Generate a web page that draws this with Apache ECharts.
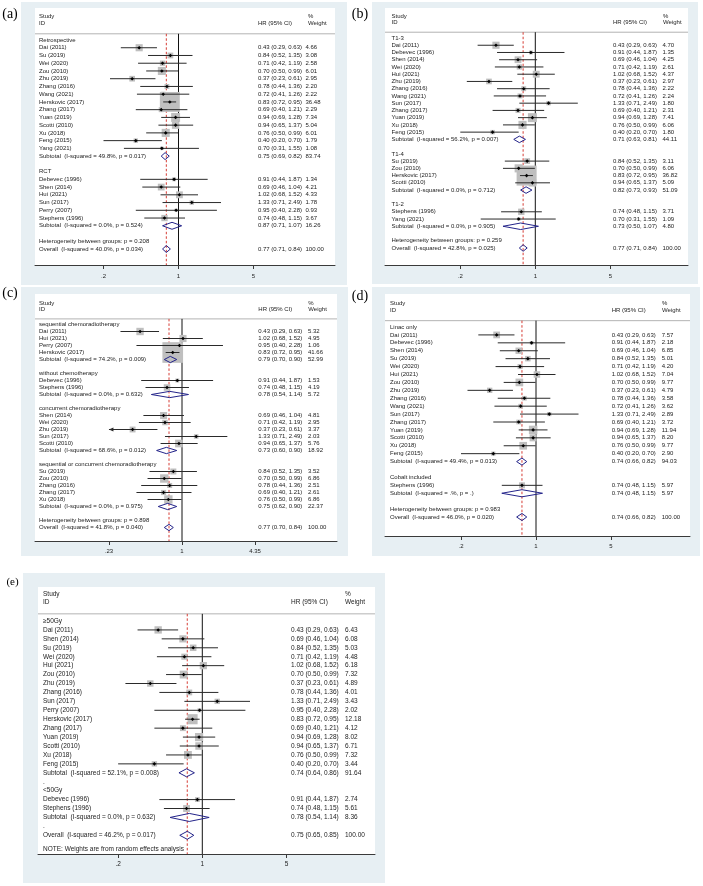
<!DOCTYPE html>
<html>
<head>
<meta charset="utf-8">
<title>Forest plots</title>
<script src="https://cdn.jsdelivr.net/npm/echarts@6/dist/echarts.min.js"></script>
<style>
html,body{margin:0;padding:0;background:#ffffff;}
#chart{width:703px;height:886px;}
</style>
</head>
<body>
<div id="chart"></div>
<script>
// ================= DATA =================
// kinds: g = group heading, s = study, d = pooled (diamond), b = blank, t = text only, n = note
const tickA = [0.2, 1, 5];
const tickTextA = [".2", "1", "5"];
const tickC = [0.23, 1, 4.35];
const tickTextC = [".23", "1", "4.35"];

// (a) study design
const aLabels = ["Retrospective","Dai (2011)","Su (2019)","Wei (2020)","Zou (2010)","Zhu (2019)","Zhang (2016)","Wang (2021)","Herskovic (2017)","Zhang (2017)","Yuan (2019)","Scotti (2010)","Xu (2018)","Feng (2015)","Yang (2021)","Subtotal  (I-squared = 49.8%, p = 0.017)","","RCT","Debevec (1996)","Shen (2014)","Hui (2021)","Sun (2017)","Perry (2007)","Stephens (1996)","Subtotal  (I-squared = 0.0%, p = 0.524)","","Heterogeneity between groups: p = 0.208","Overall  (I-squared = 40.0%, p = 0.034)"];
const aKind = "gssssssssssssssdbgssssssdbtd".split("");
const aHR = [null,0.43,0.84,0.71,0.70,0.37,0.78,0.72,0.83,0.69,0.94,0.94,0.76,0.40,0.70,0.75,null,null,0.91,0.69,1.02,1.33,0.95,0.74,0.87,null,null,0.77];
const aLo = [null,0.29,0.52,0.42,0.50,0.23,0.44,0.41,0.72,0.40,0.69,0.65,0.50,0.20,0.31,0.69,null,null,0.44,0.46,0.68,0.71,0.40,0.48,0.71,null,null,0.71];
const aHi = [null,0.63,1.35,1.19,0.99,0.61,1.36,1.26,0.95,1.21,1.28,1.37,0.99,0.70,1.55,0.82,null,null,1.87,1.04,1.52,2.49,2.28,1.15,1.07,null,null,0.84];
const aWt = [null,4.66,3.08,2.58,6.01,2.95,2.20,2.22,36.48,2.29,7.34,5.04,6.01,1.79,1.08,83.74,null,null,1.34,4.21,4.33,1.78,0.93,3.67,16.26,null,null,100.00];

// (b) T stage
const bLabels = ["T1-3","Dai (2011)","Debevec (1996)","Shen (2014)","Wei (2020)","Hui (2021)","Zhu (2019)","Zhang (2016)","Wang (2021)","Sun (2017)","Zhang (2017)","Yuan (2019)","Xu (2018)","Feng (2015)","Subtotal  (I-squared = 56.2%, p = 0.007)","","T1-4","Su (2019)","Zou (2010)","Herskovic (2017)","Scotti (2010)","Subtotal  (I-squared = 0.0%, p = 0.712)","","T1-2","Stephens (1996)","Yang (2021)","Subtotal  (I-squared = 0.0%, p = 0.905)","","Heterogeneity between groups: p = 0.259","Overall  (I-squared = 42.8%, p = 0.025)"];
const bKind = "gsssssssssssssdbgssssdbgssdbtd".split("");
const bHR = [null,0.43,0.91,0.69,0.71,1.02,0.37,0.78,0.72,1.33,0.69,0.94,0.76,0.40,0.71,null,null,0.84,0.70,0.83,0.94,0.82,null,null,0.74,0.70,0.73,null,null,0.77];
const bLo = [null,0.29,0.44,0.46,0.42,0.68,0.23,0.44,0.41,0.71,0.40,0.69,0.50,0.20,0.63,null,null,0.52,0.50,0.72,0.65,0.73,null,null,0.48,0.31,0.50,null,null,0.71];
const bHi = [null,0.63,1.87,1.04,1.19,1.52,0.61,1.36,1.26,2.49,1.21,1.28,0.99,0.70,0.81,null,null,1.35,0.99,0.95,1.37,0.93,null,null,1.15,1.55,1.07,null,null,0.84];
const bWt = [null,4.70,1.35,4.25,2.61,4.37,2.97,2.22,2.24,1.80,2.31,7.41,6.06,1.80,44.11,null,null,3.11,6.06,36.82,5.09,51.09,null,null,3.71,1.09,4.80,null,null,100.00];

// (c) chemotherapy
const cLabels = ["sequential chemoradiotherapy","Dai (2011)","Hui (2021)","Perry (2007)","Herskovic (2017)","Subtotal  (I-squared = 74.2%, p = 0.009)","","without chemotherapy","Debevec (1996)","Stephens (1996)","Subtotal  (I-squared = 0.0%, p = 0.632)","","concurrent chemoradiotherapy","Shen (2014)","Wei (2020)","Zhu (2019)","Sun (2017)","Scotti (2010)","Subtotal  (I-squared = 68.6%, p = 0.012)","","sequential or concurrent chemoradiotherapy","Su (2019)","Zou (2010)","Zhang (2016)","Zhang (2017)","Xu (2018)","Subtotal  (I-squared = 0.0%, p = 0.975)","","Heterogeneity between groups: p = 0.898","Overall  (I-squared = 41.8%, p = 0.040)"];
const cKind = "gssssdbgssdbgsssssdbgsssssdbtd".split("");
const cHR = [null,0.43,1.02,0.95,0.83,0.79,null,null,0.91,0.74,0.78,null,null,0.69,0.71,0.37,1.33,0.94,0.73,null,null,0.84,0.70,0.78,0.69,0.76,0.75,null,null,0.77];
const cLo = [null,0.29,0.68,0.40,0.72,0.70,null,null,0.44,0.48,0.54,null,null,0.46,0.42,0.23,0.71,0.65,0.60,null,null,0.52,0.50,0.44,0.40,0.50,0.62,null,null,0.70];
const cHi = [null,0.63,1.52,2.28,0.95,0.90,null,null,1.87,1.15,1.14,null,null,1.04,1.19,0.61,2.49,1.37,0.90,null,null,1.35,0.99,1.36,1.21,0.99,0.90,null,null,0.84];
const cWt = [null,5.32,4.95,1.06,41.66,52.99,null,null,1.53,4.19,5.72,null,null,4.81,2.95,3.37,2.03,5.76,18.92,null,null,3.52,6.86,2.51,2.61,6.86,22.37,null,null,100.00];

// (d) radiation machine
const dLabels = ["Linac only","Dai (2011)","Debevec (1996)","Shen (2014)","Su (2019)","Wei (2020)","Hui (2021)","Zou (2010)","Zhu (2019)","Zhang (2016)","Wang (2021)","Sun (2017)","Zhang (2017)","Yuan (2019)","Scotti (2010)","Xu (2018)","Feng (2015)","Subtotal  (I-squared = 49.4%, p = 0.013)","","Cobalt included","Stephens (1996)","Subtotal  (I-squared = .%, p = .)","","Heterogeneity between groups: p = 0.983","Overall  (I-squared = 46.0%, p = 0.020)"];
const dKind = "gssssssssssssssssdbgsdbtd".split("");
const dHR = [null,0.43,0.91,0.69,0.84,0.71,1.02,0.70,0.37,0.78,0.72,1.33,0.69,0.94,0.94,0.76,0.40,0.74,null,null,0.74,0.74,null,null,0.74];
const dLo = [null,0.29,0.44,0.46,0.52,0.42,0.68,0.50,0.23,0.44,0.41,0.71,0.40,0.69,0.65,0.50,0.20,0.66,null,null,0.48,0.48,null,null,0.66];
const dHi = [null,0.63,1.87,1.04,1.35,1.19,1.52,0.99,0.61,1.36,1.26,2.49,1.21,1.28,1.37,0.99,0.70,0.82,null,null,1.15,1.15,null,null,0.82];
const dWt = [null,7.57,2.18,6.85,5.01,4.20,7.04,9.77,4.79,3.58,3.62,2.89,3.72,11.94,8.20,9.77,2.90,94.03,null,null,5.97,5.97,null,null,100.00];

// (e) radiation dose
const eLabels = ["\u226550Gy","Dai (2011)","Shen (2014)","Su (2019)","Wei (2020)","Hui (2021)","Zou (2010)","Zhu (2019)","Zhang (2016)","Sun (2017)","Perry (2007)","Herskovic (2017)","Zhang (2017)","Yuan (2019)","Scotti (2010)","Xu (2018)","Feng (2015)","Subtotal  (I-squared = 52.1%, p = 0.008)",".","<50Gy","Debevec (1996)","Stephens (1996)","Subtotal  (I-squared = 0.0%, p = 0.632)",".","Overall  (I-squared = 46.2%, p = 0.017)","NOTE: Weights are from random effects analysis"];
const eKind = "gssssssssssssssssdbgssdbdn".split("");
const eHR = [null,0.43,0.69,0.84,0.71,1.02,0.70,0.37,0.78,1.33,0.95,0.83,0.69,0.94,0.94,0.76,0.40,0.74,null,null,0.91,0.74,0.78,null,0.75,null];
const eLo = [null,0.29,0.46,0.52,0.42,0.68,0.50,0.23,0.44,0.71,0.40,0.72,0.40,0.69,0.65,0.50,0.20,0.64,null,null,0.44,0.48,0.54,null,0.65,null];
const eHi = [null,0.63,1.04,1.35,1.19,1.52,0.99,0.61,1.36,2.49,2.28,0.95,1.21,1.28,1.37,0.99,0.70,0.86,null,null,1.87,1.15,1.14,null,0.85,null];
const eWt = [null,6.43,6.08,5.03,4.48,6.18,7.32,4.89,4.01,3.43,2.02,12.18,4.12,8.02,6.71,7.32,3.44,91.64,null,null,2.74,5.61,8.36,null,100.00,null];

// ================= LAYOUT (pixels) =================
const layA = {tag:"(a)", tagX:10, tagY:14.5, tagSize:14, bg:[21,2,347,285], L:35, T:8, R:335, B:265, P1:178.5, s:46.6, y0:40, yLast:249, nameX:39, hrX:258, wX:305.5, wHX:308, fs:6, k:3.3, lm:8, arrowAt:null};
const layB = {tag:"(b)", tagX:360, tagY:14.5, tagSize:14, bg:[372,2,698,284], L:385, T:8, R:688, B:265, P1:535.3, s:46.6, y0:38, yLast:248, nameX:391.5, hrX:613, wX:662.5, wHX:663, fs:6, k:3.3, lm:8, arrowAt:null};
const layC = {tag:"(c)", tagX:10, tagY:293.5, tagSize:14, bg:[21,287,348,556], L:35, T:294, R:337, B:541, P1:182, s:49.7, y0:324.5, yLast:527.5, nameX:39, hrX:258.3, wX:308, wHX:308.3, fs:6, k:3.2, lm:7, arrowAt:0.23};
const layD = {tag:"(d)", tagX:360, tagY:296.5, tagSize:14, bg:[372,287,700,556], L:385, T:294, R:690, B:536, P1:536, s:46.6, y0:327, yLast:517, nameX:390, hrX:611.7, wX:661.7, wHX:662, fs:6, k:2.45, lm:7, arrowAt:null};
const layE = {tag:"(e)", tagX:12.5, tagY:582, tagSize:11, bg:[23,573,385,883], L:38, T:587, R:375, B:854, P1:202.3, s:52.3, y0:621, yLast:835.3, lastIdx:24, noteRow:25.57, nameX:43, hrX:291, wX:345, wHX:345, fs:6.5, k:2.9, lm:6.5, arrowAt:null};

const panels = [
  {d:{labels:aLabels, kind:aKind, hr:aHR, lo:aLo, hi:aHi, wt:aWt, ticks:tickA, tickText:tickTextA}, L:layA},
  {d:{labels:bLabels, kind:bKind, hr:bHR, lo:bLo, hi:bHi, wt:bWt, ticks:tickA, tickText:tickTextA}, L:layB},
  {d:{labels:cLabels, kind:cKind, hr:cHR, lo:cLo, hi:cHi, wt:cWt, ticks:tickC, tickText:tickTextC}, L:layC},
  {d:{labels:dLabels, kind:dKind, hr:dHR, lo:dLo, hi:dHi, wt:dWt, ticks:tickA, tickText:tickTextA}, L:layD},
  {d:{labels:eLabels, kind:eKind, hr:eHR, lo:eLo, hi:eHi, wt:eWt, ticks:tickA, tickText:tickTextA}, L:layE}
];

// ================= STYLE =================
const FONT = '"Liberation Sans", Arial, Helvetica, sans-serif';
const INK = '#222222';
const BOX = '#bfbfbf';
const NAVY = '#24248a';
const RED = '#d63c34';
const PANEL_BG = '#e7eff3';

function fmt(v) { return v.toFixed(2); }
function txt(x, y, s, fs, align) {
  return {type:'text', x:x, y:y, silent:true,
    style:{text:s, fontSize:fs, fontFamily:FONT, fill:INK,
      textAlign:align || 'left', textVerticalAlign:'middle',
      align:align || 'left', verticalAlign:'middle'}};
}

const chart = echarts.init(document.getElementById('chart'), null, {renderer:'canvas'});
const grids = [], xAxes = [], yAxes = [], series = [], graphics = [];

panels.forEach(function (p, i) {
  const d = p.d, L = p.L;
  const lastIdx = (L.lastIdx != null) ? L.lastIdx : d.labels.length - 1;
  const step = (L.yLast - L.y0) / lastIdx;
  const yMin = -(L.y0 - L.T) / step;
  const yMax = lastIdx + (L.B - L.yLast) / step;
  const xMin = (L.L - L.P1) / L.s;
  const xMax = (L.R - L.P1) / L.s;
  const tickLn = d.ticks.map(Math.log);
  let ovIdx = 0;
  d.kind.forEach(function (k, r) { if (k === 'd') ovIdx = r; });
  const overall = d.hr[ovIdx];
  const HDR = -0.8;

  graphics.push({type:'rect', z:-10, silent:true,
    shape:{x:L.bg[0], y:L.bg[1], width:L.bg[2] - L.bg[0], height:L.bg[3] - L.bg[1]},
    style:{fill:PANEL_BG}});
  graphics.push({type:'text', z:-9, x:L.tagX, y:L.tagY, silent:true,
    style:{text:L.tag, fontSize:L.tagSize, fontFamily:'"Liberation Serif","Times New Roman",serif', fill:'#000',
      textAlign:'center', textVerticalAlign:'middle', align:'center', verticalAlign:'middle'}});

  grids.push({left:L.L, top:L.T, width:L.R - L.L, height:L.B - L.T, show:true,
    backgroundColor:'#ffffff', borderWidth:0, containLabel:false});

  xAxes.push({type:'value', gridIndex:i, min:xMin, max:xMax, position:'bottom',
    axisLine:{show:true, onZero:false, lineStyle:{color:'#3a3a3a', width:1}},
    axisTick:{show:true, customValues:tickLn, length:4, lineStyle:{color:'#3a3a3a', width:1}},
    axisLabel:{show:true, customValues:tickLn, margin:L.lm, fontSize:L.fs, fontFamily:FONT, color:INK,
      formatter:function (v) {
        let bi = 0;
        tickLn.forEach(function (t, j) { if (Math.abs(t - v) < Math.abs(tickLn[bi] - v)) bi = j; });
        return d.tickText[bi];
      }},
    splitLine:{show:false}});
  yAxes.push({type:'value', gridIndex:i, inverse:true, min:yMin, max:yMax, show:false, splitLine:{show:false}});

  // reference lines + header
  series.push({type:'custom', xAxisIndex:i, yAxisIndex:i, z:1, silent:true, animation:false, clip:false,
    data:[[0, 0]],
    renderItem:function (params, api) {
      const lft = api.coord([xMin, HDR]), rgt = api.coord([xMax, HDR]);
      const t1 = api.coord([0, HDR]), b1 = api.coord([0, yMax]);
      const ov = Math.log(overall);
      const tr = api.coord([ov, HDR]), br = api.coord([ov, yMax]);
      const yS = api.coord([0, -3.05])[1], yI = api.coord([0, -2.1])[1];
      return {type:'group', children:[
        {type:'line', shape:{x1:lft[0], y1:lft[1], x2:rgt[0], y2:rgt[1]}, style:{stroke:'#a0a0a0', lineWidth:0.8}},
        {type:'line', shape:{x1:t1[0], y1:t1[1], x2:b1[0], y2:b1[1]}, style:{stroke:'#111111', lineWidth:1}},
        {type:'line', shape:{x1:tr[0], y1:tr[1], x2:br[0], y2:br[1]}, style:{stroke:RED, lineWidth:1, lineDash:[2.5, 2]}},
        txt(L.nameX, yS, 'Study', L.fs),
        txt(L.nameX, yI, 'ID', L.fs),
        txt(L.hrX, yI, 'HR (95% CI)', L.fs),
        txt(L.wHX, yS, '%', L.fs),
        txt(L.wHX, yI, 'Weight', L.fs)
      ]};
    }});

  const rows = d.labels.map(function (_, r) { return [d.hr[r] != null ? Math.log(d.hr[r]) : 0, r]; });

  // layer 0: weight boxes
  series.push({type:'custom', xAxisIndex:i, yAxisIndex:i, z:2, silent:true, animation:false, clip:false,
    data:rows,
    renderItem:function (params, api) {
      const r = params.dataIndex;
      if (d.kind[r] !== 's') return {type:'group', children:[]};
      const c = api.coord([Math.log(d.hr[r]), r]);
      const side = L.k * Math.sqrt(d.wt[r]);
      return {type:'rect', shape:{x:c[0] - side / 2, y:c[1] - side / 2, width:side, height:side}, style:{fill:BOX}};
    }});

  // layer 1: confidence intervals
  series.push({type:'custom', xAxisIndex:i, yAxisIndex:i, z:3, silent:true, animation:false, clip:false,
    data:rows,
    renderItem:function (params, api) {
      const r = params.dataIndex;
      if (d.kind[r] !== 's') return {type:'group', children:[]};
      const a = api.coord([Math.log(d.lo[r]), r]);
      const b = api.coord([Math.log(d.hi[r]), r]);
      const ch = [{type:'line', shape:{x1:a[0], y1:a[1], x2:b[0], y2:b[1]}, style:{stroke:'#2a2a2a', lineWidth:1}}];
      if (L.arrowAt != null && d.lo[r] <= L.arrowAt) {
        ch.push({type:'polygon', shape:{points:[[a[0], a[1]], [a[0] + 4.5, a[1] - 2], [a[0] + 4.5, a[1] + 2]]}, style:{fill:'#2a2a2a'}});
      }
      return {type:'group', children:ch};
    }});

  // layer 2: point estimates, diamonds, text columns
  series.push({type:'custom', xAxisIndex:i, yAxisIndex:i, z:4, silent:true, animation:false, clip:false,
    data:rows,
    renderItem:function (params, api) {
      const r = params.dataIndex;
      const k = d.kind[r];
      const rowY = (k === 'n') ? L.noteRow : r;
      const y = api.coord([0, rowY])[1];
      const ch = [];
      if (k === 's') {
        const c = api.coord([Math.log(d.hr[r]), r]);
        const m = 1.8;
        ch.push({type:'polygon', shape:{points:[[c[0], c[1] - m], [c[0] + m, c[1]], [c[0], c[1] + m], [c[0] - m, c[1]]]}, style:{fill:'#000'}});
      }
      if (k === 'd') {
        const h = 0.45;
        const pL = api.coord([Math.log(d.lo[r]), r]);
        const pR = api.coord([Math.log(d.hi[r]), r]);
        const pT = api.coord([Math.log(d.hr[r]), r - h]);
        const pB = api.coord([Math.log(d.hr[r]), r + h]);
        ch.push({type:'polygon', shape:{points:[pL, pT, pR, pB]}, style:{fill:'none', stroke:NAVY, lineWidth:1}});
      }
      if (d.labels[r]) ch.push(txt(L.nameX, y, d.labels[r], L.fs));
      if (k === 's' || k === 'd') {
        ch.push(txt(L.hrX, y, fmt(d.hr[r]) + ' (' + fmt(d.lo[r]) + ', ' + fmt(d.hi[r]) + ')', L.fs));
        ch.push(txt(L.wX, y, fmt(d.wt[r]), L.fs));
      }
      return {type:'group', children:ch};
    }});
});

chart.setOption({
  animation:false,
  backgroundColor:'#ffffff',
  graphic:{elements:graphics},
  grid:grids,
  xAxis:xAxes,
  yAxis:yAxes,
  series:series
});
</script>
</body>
</html>
